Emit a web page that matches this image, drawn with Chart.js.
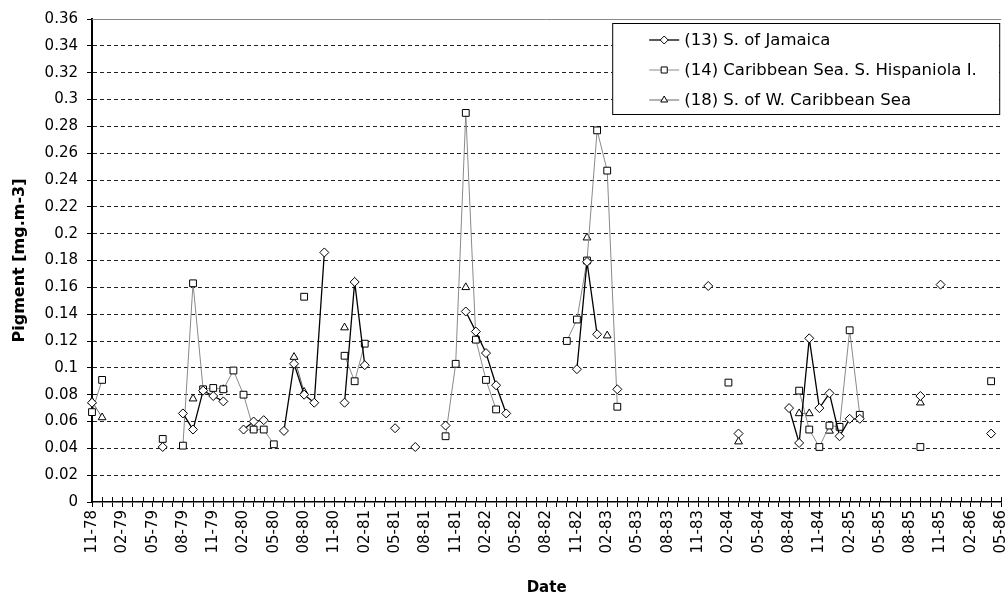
<!DOCTYPE html>
<html>
<head>
<meta charset="utf-8">
<script src="https://cdn.jsdelivr.net/npm/chart.js@4.4.1/dist/chart.umd.min.js"></script>
<style>
  html, body { margin: 0; padding: 0; background: #fff; }
  canvas { display: block; }
</style>
</head>
<body>
<canvas id="chart" width="1007" height="598"></canvas>
<script>
// Monthly categories, 11-78 .. 05-86
const months = [
  '11-78','12-78',
  '01-79','02-79','03-79','04-79','05-79','06-79','07-79','08-79','09-79','10-79','11-79','12-79',
  '01-80','02-80','03-80','04-80','05-80','06-80','07-80','08-80','09-80','10-80','11-80','12-80',
  '01-81','02-81','03-81','04-81','05-81','06-81','07-81','08-81','09-81','10-81','11-81','12-81',
  '01-82','02-82','03-82','04-82','05-82','06-82','07-82','08-82','09-82','10-82','11-82','12-82',
  '01-83','02-83','03-83','04-83','05-83','06-83','07-83','08-83','09-83','10-83','11-83','12-83',
  '01-84','02-84','03-84','04-84','05-84','06-84','07-84','08-84','09-84','10-84','11-84','12-84',
  '01-85','02-85','03-85','04-85','05-85','06-85','07-85','08-85','09-85','10-85','11-85','12-85',
  '01-86','02-86','03-86','04-86','05-86'
];

const _ = null;

// (13) S. of Jamaica — pigment, mg.m-3
const jamaica = [
  0.074, _,
  _, _, _, _, _, 0.041, _, 0.066, 0.054, 0.083, 0.079, 0.075,
  _, 0.054, 0.060, 0.061, _, 0.053, 0.103, 0.080, 0.074, 0.186, _, 0.074,
  0.164, 0.102, _, _, 0.055, _, 0.041, _, _, 0.057, _, 0.142,
  0.127, 0.111, 0.087, 0.066, _, _, _, _, _, _, 0.099, 0.179,
  0.125, _, 0.084, _, _, _, _, _, _, _, _, 0.161,
  _, _, 0.051, _, _, _, _, 0.070, 0.044, 0.122, 0.070, 0.081,
  0.049, 0.062, 0.062, _, _, _, _, _, 0.079, _, 0.162, _,
  _, _, _, 0.051, _
];

// (14) Caribbean Sea. S. Hispaniola I.
const hispaniola = [
  0.067, 0.091,
  _, _, _, _, _, 0.047, _, 0.042, 0.163, 0.084, 0.085, 0.084,
  0.098, 0.080, 0.054, 0.054, 0.043, _, _, 0.153, _, _, _, 0.109,
  0.090, 0.118, _, _, _, _, _, _, _, 0.049, 0.103, 0.290,
  0.121, 0.091, 0.069, _, _, _, _, _, _, 0.120, 0.136, 0.180,
  0.277, 0.247, 0.071, _, _, _, _, _, _, _, _, _,
  _, 0.089, _, _, _, _, _, _, 0.083, 0.054, 0.041, 0.057,
  0.056, 0.128, 0.065, _, _, _, _, _, 0.041, _, _, _,
  _, _, _, 0.090, _
];

// (18) S. of W. Caribbean Sea
const wCaribbean = [
  0.075, 0.063,
  _, _, _, _, _, _, _, _, 0.077, _, _, 0.084,
  _, _, 0.055, _, _, _, 0.108, 0.082, _, _, _, 0.130,
  _, _, _, _, _, _, _, _, _, _, _, 0.160,
  _, _, _, _, _, _, _, _, _, _, _, 0.197,
  _, 0.124, _, _, _, _, _, _, _, _, _, _,
  _, _, 0.045, _, _, _, _, _, 0.066, 0.066, _, 0.053,
  _, _, _, _, _, _, _, _, 0.074, _, _, _,
  _, _, _, _, _
];

const seriesNames = [
  '(13) S. of Jamaica',
  '(14) Caribbean Sea. S. Hispaniola I.',
  '(18) S. of W. Caribbean Sea'
];

const FONT = "'DejaVu Sans', 'Liberation Sans', Arial, sans-serif";
Chart.defaults.font.family = FONT;
Chart.defaults.color = '#000';

// Boxed legend with line + marker samples, drawn inside the plot area
const boxedLegend = {
  id: 'boxedLegend',
  afterDatasetsDraw(chart) {
    const { ctx, chartArea } = chart;
    const w = 387, h = 91;
    const x0 = chartArea.right - w - 2, y0 = chartArea.top + 4;
    ctx.save();
    ctx.fillStyle = '#fff';
    ctx.fillRect(x0, y0, w, h);
    ctx.strokeStyle = '#000';
    ctx.lineWidth = 1;
    ctx.strokeRect(x0 + 0.5, y0 + 0.5, w, h);
    chart.data.datasets.forEach((ds, i) => {
      const y = y0 + 17 + i * 30;
      ctx.strokeStyle = ds.borderColor;
      ctx.lineWidth = ds.borderWidth;
      ctx.beginPath();
      ctx.moveTo(x0 + 37, y);
      ctx.lineTo(x0 + 67, y);
      ctx.stroke();
      ctx.fillStyle = '#fff';
      ctx.strokeStyle = '#000';
      ctx.lineWidth = 1;
      Chart.helpers.drawPoint(ctx, {
        pointStyle: ds.pointStyle,
        radius: ds.pointRadius - 0.5,
        borderWidth: 1,
        rotation: 0
      }, x0 + 52, y);
      ctx.fillStyle = '#000';
      ctx.font = '16.5px ' + FONT;
      ctx.textBaseline = 'middle';
      ctx.textAlign = 'left';
      ctx.fillText(ds.label, x0 + 72, y + 1);
    });
    ctx.restore();
  }
};

// Top frame line and the upper half of the crossing month ticks
const frame = {
  id: 'frame',
  beforeDatasetsDraw(chart) {
    const { ctx, chartArea, scales } = chart;
    ctx.save();
    ctx.strokeStyle = '#888';
    ctx.lineWidth = 1;
    ctx.beginPath();
    ctx.moveTo(chartArea.left, chartArea.top + 0.5);
    ctx.lineTo(chartArea.right, chartArea.top + 0.5);
    ctx.stroke();
    const xs = scales.x;
    ctx.strokeStyle = '#000';
    ctx.beginPath();
    xs.ticks.forEach((t, i) => {
      const px = Math.round(xs.getPixelForTick(i)) + 0.5;
      ctx.moveTo(px, chartArea.bottom - 5);
      ctx.lineTo(px, chartArea.bottom);
    });
    ctx.stroke();
    ctx.restore();
  }
};

const pointCommon = {
  pointBackgroundColor: '#fff',
  pointBorderColor: '#000',
  pointBorderWidth: 1,
  pointHoverRadius: 4,
  tension: 0,
  spanGaps: false,
  fill: false
};

new Chart(document.getElementById('chart'), {
  type: 'line',
  data: {
    labels: months,
    datasets: [
      Object.assign({
        label: seriesNames[0], data: jamaica,
        borderColor: '#000', borderWidth: 1.3,
        pointStyle: 'rectRot', pointRadius: 4.5
      }, pointCommon),
      Object.assign({
        label: seriesNames[1], data: hispaniola,
        borderColor: '#8a8a8a', borderWidth: 1,
        pointStyle: 'rect', pointRadius: 4.8
      }, pointCommon),
      Object.assign({
        label: seriesNames[2], data: wCaribbean,
        borderColor: '#666', borderWidth: 1,
        pointStyle: 'triangle', pointRadius: 4.5
      }, pointCommon)
    ]
  },
  options: {
    responsive: false,
    animation: false,
    events: [],
    layout: { padding: { top: 19, right: 4, left: 0, bottom: 0 } },
    plugins: { legend: { display: false }, tooltip: { enabled: false } },
    scales: {
      x: {
        type: 'category',
        offset: false,
        afterFit(scale) {
          scale.height = 96;
          scale.paddingLeft = 0;
          scale.paddingRight = 0;
        },
        grid: {
          drawOnChartArea: false, drawTicks: true, tickLength: 5,
          tickColor: '#000', tickWidth: 1
        },
        border: { display: true, color: '#000', width: 1.5 },
        ticks: {
          autoSkip: false, maxRotation: 90, minRotation: 90, padding: 3,
          font: { size: 15 },
          callback(value, index) {
            return index % 3 === 0 ? this.getLabelForValue(value) : '';
          }
        },
        title: {
          display: true, text: 'Date',
          font: { size: 15, weight: 'bold' },
          padding: { top: 0, bottom: 1 }
        }
      },
      y: {
        min: 0, max: 0.36,
        afterFit(scale) { scale.width = 92; },
        grid: {
          color: ctx => (ctx.tick && ctx.tick.value === 0) ? 'rgba(0,0,0,0)' : '#222',
          lineWidth: 1,
          drawTicks: true, tickLength: 5, tickColor: '#000'
        },
        border: { display: true, color: '#000', width: 2, dash: [4, 3] },
        ticks: {
          stepSize: 0.02, padding: 9,
          font: { size: 15 },
          callback: v => String(Number(v.toFixed(2)))
        },
        title: {
          display: true, text: 'Pigment [mg.m-3]',
          font: { size: 16, weight: 'bold' },
          padding: { top: 10, bottom: 0 }
        }
      }
    }
  },
  plugins: [frame, boxedLegend]
});
</script>
</body>
</html>
